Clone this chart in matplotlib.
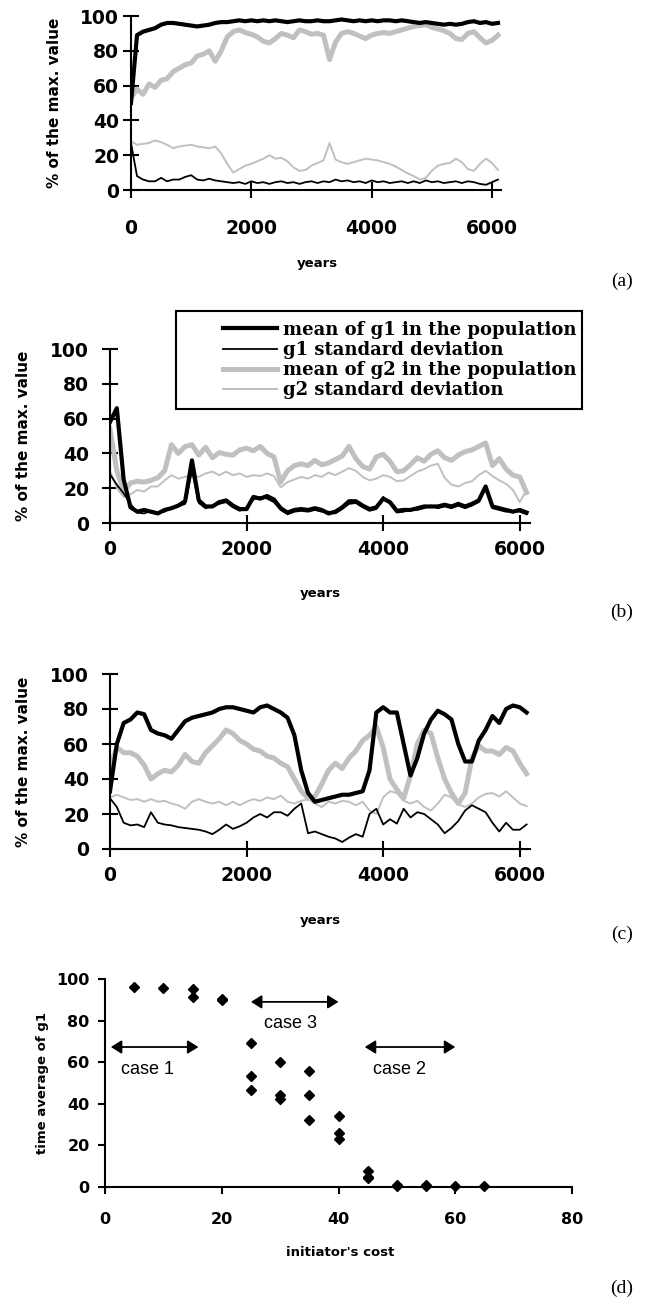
import numpy as np
import matplotlib
matplotlib.use('Agg')
from matplotlib import pyplot as plt
from matplotlib.patches import Rectangle

years = np.arange(0, 6101, 100)

# panel (a)
a_g1_mean = [50, 89, 91, 92, 93, 95, 96, 96, 95.5, 95,
             94.5, 94, 94.5, 95, 96, 96.5, 96.5, 97, 97.5, 97,
             97.5, 97, 97.5, 97, 97.5, 97, 96.5, 97, 97.5, 97,
             97, 97.5, 97, 97, 97.5, 98, 97.5, 97, 97.5, 97,
             97.5, 97, 97.5, 97.5, 97, 97.5, 97, 96.5, 96, 96.5,
             96, 95.5, 95, 95.5, 95, 95.5, 96.5, 97, 96, 96.5,
             95.5, 96]
a_g1_std = [27, 8, 6, 5, 5, 7, 5, 6, 6, 7.5,
            8.5, 6, 5.5, 6.5, 5.5, 5, 4.5, 4, 4.5, 3.5,
            5, 4, 4.5, 3.5, 4.5, 5, 4, 4.5, 3.5, 4.5,
            5, 4, 5, 4.5, 6, 5, 5.5, 4.5, 5, 4,
            5.5, 4.5, 5, 4, 4.5, 5, 4, 5, 4, 5.5,
            4.5, 5, 4, 4.5, 5, 4, 5, 4.5, 3.5, 3,
            4.5, 6]
a_g2_mean = [53, 58, 55, 61, 59, 63, 64, 68, 70, 72,
             73, 77, 78, 80, 74, 80, 88, 91, 92, 90.5,
             89.5, 88, 85.5, 84.5, 87, 90, 89, 87.5, 92, 91,
             89.5, 90, 89, 75, 85, 90, 91, 90, 88.5, 87,
             89, 90, 90.5, 90, 91, 92, 93, 94, 94.5, 95,
             93.5, 92.5, 91.5, 90, 87, 86.5, 90, 91, 87.5, 84.5,
             86, 89]
a_g2_std = [28, 26, 26.5, 27, 28.5, 27.5, 26, 24, 25, 25.5,
            26, 25, 24.5, 24, 25, 21, 15, 10, 12, 14,
            15, 16.5, 18, 20, 18, 18.5, 16.5, 13, 11, 11.5,
            14, 15.5, 17, 27, 17.5, 16, 15, 16, 17, 18,
            17.5, 17, 16, 15, 13.5, 11.5, 9.5, 8, 6, 7,
            11, 14, 15, 15.5, 18, 16, 12, 11, 15, 18,
            15.5, 11.5]

# panel (b)
b_g1_mean = [58, 66, 25, 9, 6.5, 7.5, 6.5, 5.5, 7.5, 8.5,
             10, 12.5, 36, 13, 9.5, 9.5, 12, 13, 10, 8,
             8, 15, 14, 15.5, 13.5, 8.5, 6, 7.5, 8, 7.5,
             8.5, 7.5, 5.5, 6.5, 9, 12.5, 12.5, 10, 8, 9,
             14, 12, 7, 7.5, 7.5, 8.5, 9.5, 9.5, 9.5, 10.5,
             9.5, 11, 9.5, 11, 13, 21, 9.5, 8.5, 7.5, 6.5,
             7.5, 6]
b_g1_std = [28, 22, 17, 11, 6, 5.5, 7, 6, 6.5, 9,
            9.5, 11, 30, 11.5, 8.5, 10, 11, 12, 9, 7,
            9, 13.5, 15, 14, 12, 7.5, 5, 6.5, 7, 6.5,
            7.5, 6.5, 6.5, 5.5, 8, 11, 11.5, 9, 7, 8,
            15, 11, 6, 6.5, 8, 7.5, 8.5, 10, 8.5, 9.5,
            8.5, 10, 8.5, 10, 12, 20, 8.5, 7.5, 6.5, 7,
            6.5, 5]
b_g2_mean = [54, 30, 18, 23, 24, 23.5, 24.5, 26, 30, 45,
             40, 44, 45, 39, 43.5, 37.5, 40.5, 39.5, 39, 42,
             43, 41.5, 44, 40, 38, 23.5, 30, 33, 34, 33,
             36, 33.5, 34.5, 36.5, 38.5, 44, 37, 32.5, 31, 38,
             39.5, 35.5, 29.5, 30, 33.5, 37.5, 35.5, 39.5, 41.5, 37.5,
             36, 39, 41, 42, 44, 46, 33, 37, 31, 27.5,
             26.5, 17.5]
b_g2_std = [30, 20, 15, 16.5, 19, 18, 21, 21, 24.5, 27.5,
            25.5, 26.5, 27.5, 26.5, 28.5, 29.5, 27.5, 29.5, 27.5, 28.5,
            26.5, 27.5, 27, 28.5, 27, 20.5, 23.5, 25, 26.5, 25.5,
            27.5, 26.5, 29, 27.5, 29.5, 31.5, 30, 26.5, 24.5, 25.5,
            27.5, 26.5, 24, 24.5, 27, 29.5, 31, 33, 34, 26,
            22, 21, 23, 24, 27.5, 30, 27, 24.5, 22.5, 19,
            12, 19]

# panel (c)
c_g1_mean = [33, 60, 72, 74, 78, 77, 68, 66, 65, 63,
             68, 73, 75, 76, 77, 78, 80, 81, 81, 80,
             79, 78, 81, 82, 80, 78, 75, 65, 45, 32,
             27, 28, 29, 30, 31, 31, 32, 33, 45, 78,
             81, 78, 78, 60, 42, 52, 66, 74, 79, 77,
             74, 60, 50, 50, 62, 68, 76, 72, 80, 82,
             81, 78]
c_g1_std = [29, 24, 15, 13.5, 14, 12.5, 21, 15, 14, 13.5,
            12.5, 12, 11.5, 11, 10, 8.5, 11, 14, 11.5, 13,
            15, 18, 20, 18, 21, 21, 19, 23, 26, 9,
            10, 8.5, 7, 6, 4, 6.5, 8.5, 7, 20, 23,
            14, 17, 14.5, 23, 18, 21, 20, 17, 14, 9,
            12, 16, 22, 25, 23, 21, 15, 10, 15, 11,
            11, 14]
c_g2_mean = [47, 58, 55, 55, 53, 48, 40, 43, 45, 44,
             48, 54, 50, 49, 55, 59, 63, 68, 66, 62,
             60, 57, 56, 53, 52, 49, 47, 40, 33, 29,
             30, 37, 45, 49, 46, 52, 56, 62, 65, 70,
             58, 40, 34, 29, 42, 60, 68, 66, 52, 40,
             32, 26, 32, 52, 59, 56, 56, 54, 58, 56,
             49, 43]
c_g2_std = [29.5, 31, 29.5, 28, 28.5, 27, 28.5, 27, 27.5, 26,
            25, 23, 27, 28.5, 27, 26, 27, 25, 27, 25,
            27, 28.5, 27.5, 29.5, 28.5, 30.5, 27, 26, 27.5, 28.5,
            26, 24, 27, 26, 27.5, 27, 25, 27, 22, 20,
            29.5, 33, 32, 27.5, 26, 27.5, 24, 22, 26, 31,
            29.5, 25.5, 24, 26, 29.5, 31.5, 32, 30, 33, 29.5,
            26, 24.5]

# panel (d)
cost = [5, 10, 15, 15, 20, 20, 25, 25, 25, 30, 30, 30, 35, 35, 35,
        40, 40, 40, 45, 45, 45, 50, 50, 55, 55, 60, 65]
g1_avg = [96, 95.5, 95, 91.5, 90.5, 90, 69, 53.5, 46.5, 60, 44, 42.5, 56, 44, 32,
          34, 26, 23, 7.5, 5, 4.5, 1, 0.5, 1, 0.5, 0.5, 0.3]
case_names = ['case 1', 'case 3', 'case 2']
case_from = [1, 25, 44.5]
case_to = [16, 40, 60]
case_y = [67.3, 89, 67.3]
case_text_x = [7.3, 31.8, 50.5]
case_text_y = [56.7, 78.8, 56.7]

legend_labels = ['mean of g1 in the population', 'g1 standard deviation',
                 'mean of g2 in the population', 'g2 standard deviation']

plt.rcParams['font.family'] = 'DejaVu Sans'
plt.rcParams['font.weight'] = 'bold'
plt.rcParams['axes.labelweight'] = 'bold'

gri = '#c0c0c0'
W, H = 648.0, 1299.0
fig = plt.figure(figsize=(6.48, 12.99), dpi=100)


def axa(x0, y0, x1, y1):
    return fig.add_axes([x0 / W, 1 - y1 / H, (x1 - x0) / W, (y1 - y0) / H])


def serie(ax, m1, s1, m2, s2):
    l3, = ax.plot(years, m2, color=gri, lw=3.6, zorder=2)
    l4, = ax.plot(years, s2, color=gri, lw=1.4, zorder=2)
    l1, = ax.plot(years, m1, color='k', lw=3.0, zorder=3)
    l2, = ax.plot(years, s1, color='k', lw=1.3, zorder=3)
    return [l1, l2, l3, l4]


def stil(ax, xpad, ypad, ylx):
    ax.spines['top'].set_visible(False)
    ax.spines['right'].set_visible(False)
    ax.spines['left'].set_linewidth(1.5)
    ax.spines['bottom'].set_linewidth(1.5)
    ax.set_xlim(0, 6150)
    ax.set_ylim(0, 100)
    ax.set_xticks([0, 2000, 4000, 6000])
    ax.set_yticks(range(0, 101, 20))
    ax.tick_params(direction='inout', length=12, width=1.5, labelsize=13.5)
    ax.tick_params(axis='x', pad=xpad)
    ax.tick_params(axis='y', pad=ypad)
    ax.set_ylabel('% of the max. value', fontsize=11, va='center')
    ax.yaxis.set_label_coords(ylx, 0.5)
    ax.set_xlabel('years', fontsize=9.5, va='center')


ax_a = axa(131, 16, 501, 190)
serie(ax_a, a_g1_mean, a_g1_std, a_g2_mean, a_g2_std)
stil(ax_a, 15, 2.5, -0.208)
ax_a.xaxis.set_label_coords(0.503, -0.42)

ax_b = axa(110, 349, 530, 523)
hb = serie(ax_b, b_g1_mean, b_g1_std, b_g2_mean, b_g2_std)
stil(ax_b, 6.5, 9, -0.205)
ax_b.xaxis.set_label_coords(0.5, -0.408)

ax_c = axa(110, 674, 530, 849)
serie(ax_c, c_g1_mean, c_g1_std, c_g2_mean, c_g2_std)
stil(ax_c, 6, 9, -0.205)
ax_c.xaxis.set_label_coords(0.5, -0.406)

# legend of (b) with Excel-like box
fig.add_artist(Rectangle((176 / W, 1 - 409 / H), 406 / W, 98 / H, transform=fig.transFigure,
                         fc='white', ec='k', lw=1.5, zorder=4))
fig.legend(handles=hb, labels=legend_labels, loc='center left',
           bbox_to_anchor=(214 / W, 1 - 360 / H), frameon=False, borderpad=0,
           handlelength=3.0, handletextpad=0.3, labelspacing=0.12,
           prop=dict(family='DejaVu Serif', weight='bold', size=13))

ax_d = axa(105, 979, 572, 1187)
ax_d.plot(cost, g1_avg, 'D', color='k', ms=5.2, clip_on=False, zorder=4)
for i in range(len(case_names)):
    ax_d.annotate('', xy=(case_to[i], case_y[i]), xytext=(case_from[i], case_y[i]),
                  arrowprops=dict(arrowstyle='<|-|>,head_length=0.4,head_width=0.25',
                                  color='k', lw=1.3, shrinkA=0, shrinkB=0, mutation_scale=16))
    ax_d.text(case_text_x[i], case_text_y[i], case_names[i], ha='center', va='center',
              family='Liberation Sans', weight='normal', fontsize=13)
ax_d.spines['top'].set_visible(False)
ax_d.spines['right'].set_visible(False)
ax_d.spines['left'].set_linewidth(1.5)
ax_d.spines['bottom'].set_linewidth(1.5)
ax_d.set_xlim(0, 80)
ax_d.set_ylim(0, 100)
ax_d.set_xticks(range(0, 81, 20))
ax_d.set_yticks(range(0, 101, 20))
ax_d.tick_params(direction='out', length=5, width=1.5, labelsize=11.5)
ax_d.tick_params(axis='x', pad=13)
ax_d.tick_params(axis='y', pad=6)
ax_d.set_ylabel('time average of g1', fontsize=9.5, va='center')
ax_d.yaxis.set_label_coords(-0.133, 0.5)
ax_d.set_xlabel("initiator's cost", fontsize=9.5, va='center')
ax_d.xaxis.set_label_coords(0.503, -0.3125)

for lab, yy in [('(a)', 281), ('(b)', 612), ('(c)', 934), ('(d)', 1288)]:
    fig.text(622 / W, 1 - yy / H, lab, ha='center', va='center',
             family='Liberation Serif', weight='normal', fontsize=14)

fig.savefig('out.png', dpi=100)
